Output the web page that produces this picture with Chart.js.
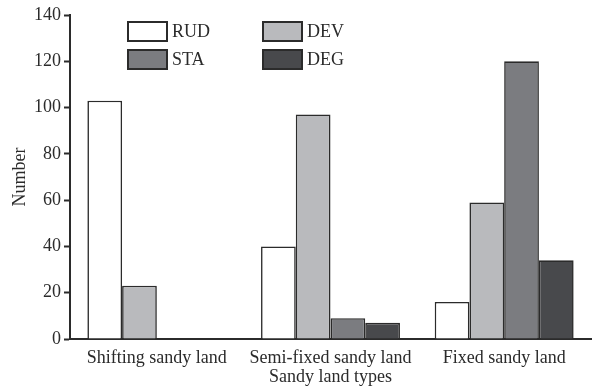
<!DOCTYPE html>
<html>
<head>
<meta charset="utf-8">
<script src="https://cdn.jsdelivr.net/npm/chart.js@4/dist/chart.umd.min.js"></script>
<style>
  html, body { margin: 0; padding: 0; background: #fff; }
  #wrap { width: 592px; height: 389px; }
</style>
</head>
<body>
<div id="wrap"><canvas id="grafico"></canvas></div>
<script>
const categorias = ['Shifting sandy land', 'Semi-fixed sandy land', 'Fixed sandy land'];
const rud = [103, 40, 16];
const dev = [23, 97, 59];
const sta = [0, 9, 120];
const deg = [0, 7, 34];
const yTicks = [0, 20, 40, 60, 80, 100, 120, 140];

const tinta = '#2b2b2b';
const serif = "'Liberation Serif', 'Times New Roman', serif";

// leyenda 2x2 dibujada a mano dentro del área del gráfico
const leyendaGrid = {
    id: 'leyendaGrid',
    afterDraw(chart) {
        const {ctx, chartArea} = chart;
        const boxW = 39, boxH = 19, colGap = 135, rowGap = 28;
        const x0 = chartArea.left + 58, y0 = chartArea.top + 7;
        ctx.save();
        ctx.font = '18px ' + serif;
        ctx.textBaseline = 'middle';
        chart.data.datasets.forEach((ds, i) => {
            const col = i % 2, row = Math.floor(i / 2);
            const x = x0 + col * colGap, y = y0 + row * rowGap;
            ctx.fillStyle = ds.backgroundColor;
            ctx.fillRect(x, y, boxW, boxH);
            ctx.lineWidth = 2;
            ctx.strokeStyle = tinta;
            ctx.strokeRect(x, y, boxW, boxH);
            ctx.fillStyle = tinta;
            ctx.fillText(ds.label, x + boxW + 5, y + boxH / 2 + 1);
        });
        ctx.restore();
    }
};

const mkSet = (label, data, color) => ({
    label, data,
    backgroundColor: color,
    borderColor: tinta,
    borderWidth: 1.6,
    borderSkipped: 'bottom'
});

const fuente = { family: serif, size: 18 };

new Chart(document.getElementById('grafico').getContext('2d'), {
    type: 'bar',
    data: {
        labels: categorias,
        datasets: [
            mkSet('RUD', rud, '#ffffff'),
            mkSet('DEV', dev, '#b9babd'),
            mkSet('STA', sta, '#7b7c80'),
            mkSet('DEG', deg, '#48494c')
        ]
    },
    options: {
        responsive: true,
        maintainAspectRatio: false,
        animation: false,
        layout: { padding: { top: 15, right: 1, left: 0, bottom: 0 } },
        datasets: { bar: { categoryPercentage: 0.8, barPercentage: 1.0 } },
        plugins: {
            legend: { display: false },
            tooltip: { enabled: false }
        },
        scales: {
            x: {
                offset: true,
                grid: { display: false },
                border: { display: true, color: tinta, width: 2 },
                ticks: { color: tinta, font: fuente, padding: 0, maxRotation: 0 },
                title: { display: true, text: 'Sandy land types', color: tinta, font: fuente, padding: { top: 0, bottom: 1 } },
                afterFit: s => { s.height = 50; }
            },
            y: {
                min: 0, max: 140,
                afterBuildTicks: s => { s.ticks = yTicks.map(v => ({ value: v })); },
                grid: { drawOnChartArea: false, drawTicks: true, tickLength: 6, tickWidth: 2, tickColor: tinta },
                border: { display: true, color: tinta, width: 2 },
                ticks: { color: tinta, font: fuente, padding: 3 },
                title: { display: true, text: 'Number', color: tinta, font: fuente, padding: { top: 9, bottom: 0 } },
                afterFit: s => { s.width = 70; }
            }
        }
    },
    plugins: [leyendaGrid]
});
</script>
</body>
</html>
